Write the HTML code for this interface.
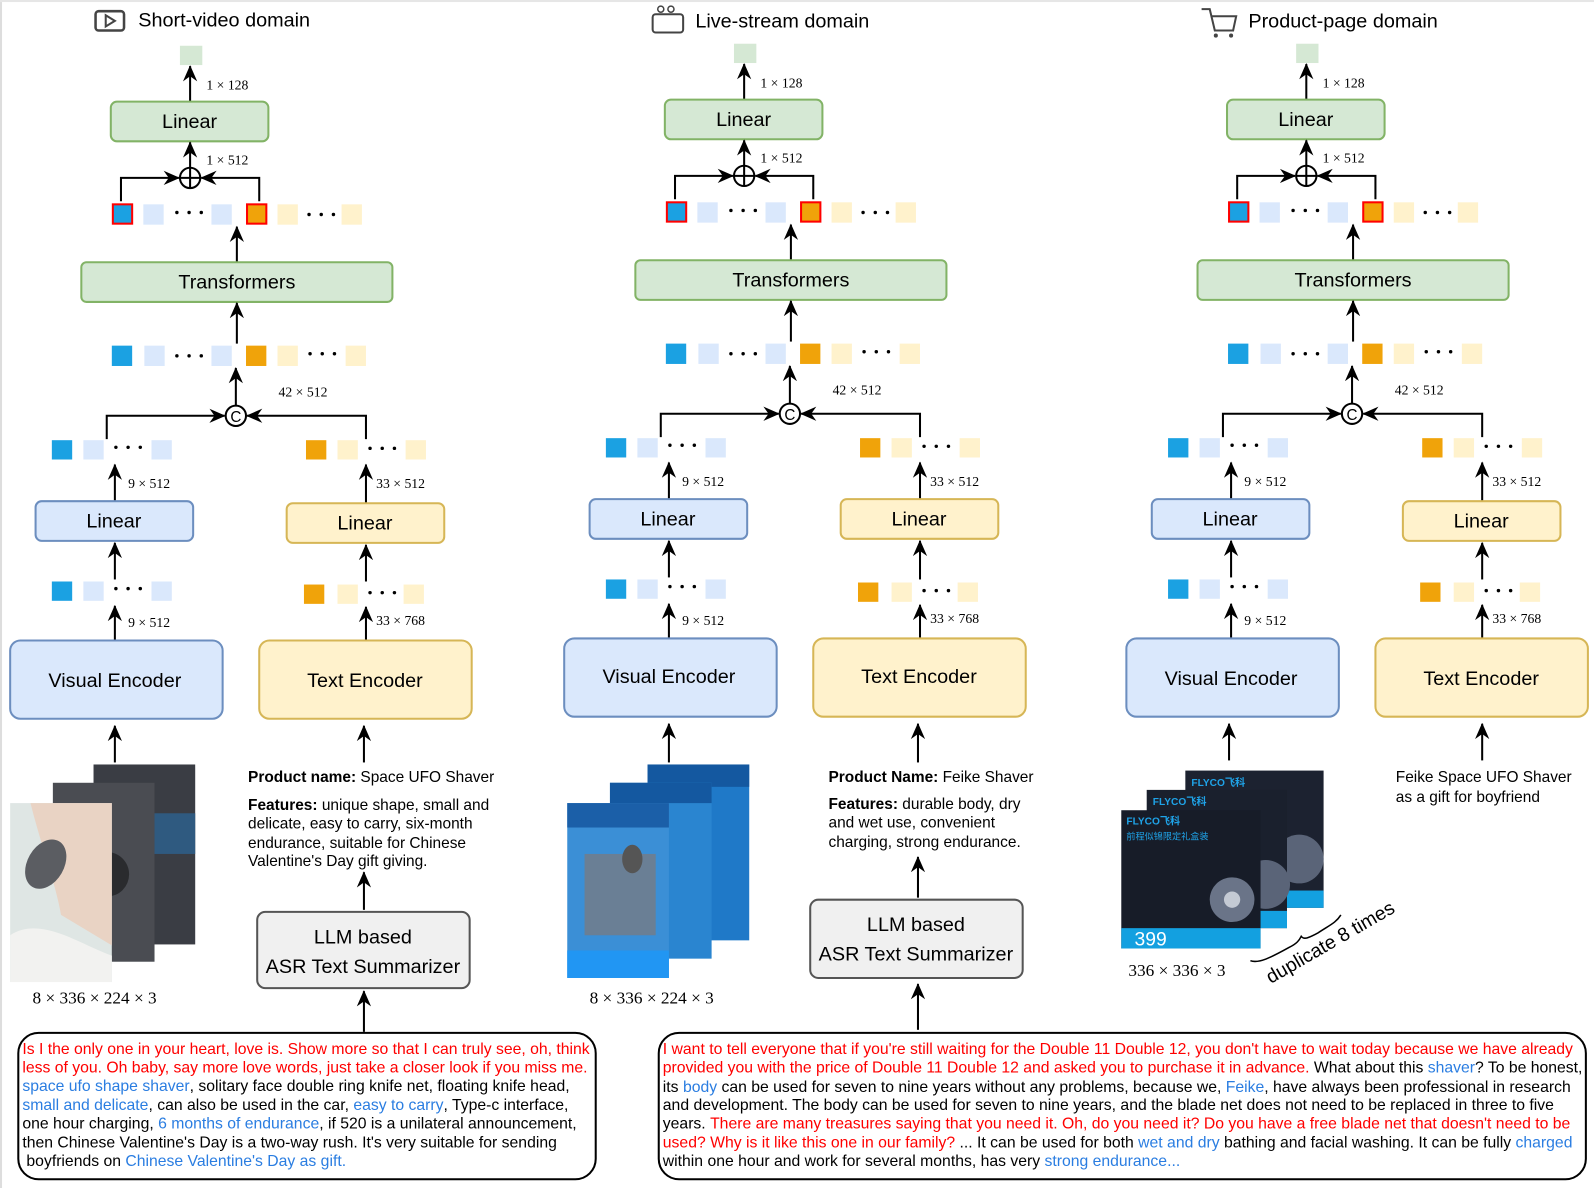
<!DOCTYPE html>
<html><head><meta charset="utf-8"><style>
html,body{margin:0;padding:0;background:#fff}
svg{display:block}
text{font-family:"Liberation Sans","Noto Sans CJK SC",sans-serif;fill:#000}
.s{font-family:"Liberation Serif",serif;font-size:13.5px}
.b{font-size:19.5px;text-anchor:middle}
.p{font-size:15.2px}
.t{font-size:15.5px}
.r{fill:#ff0000}.u{fill:#2a7de1}
</style></head><body>
<svg width="1594" height="1188" viewBox="0 0 1568 1168.6" xmlns="http://www.w3.org/2000/svg">
<defs>
<marker id="a" markerUnits="userSpaceOnUse" markerWidth="16" markerHeight="16" viewBox="0 0 16 16" refX="15" refY="8" orient="auto"><path d="M0,1 L16,8 L0,15 L5,8 z" fill="#000"/></marker>
</defs>
<rect x="0" y="0" width="1568" height="1168.6" fill="#fff"/>
<rect x="0" y="0" width="2" height="1168.6" fill="#ddd"/>
<rect x="0" y="0" width="1568" height="2" fill="#e6e6e6"/>

<!-- titles -->
<rect x="94" y="11" width="28" height="19" rx="3" fill="none" stroke="#444" stroke-width="2.5"/>
<path d="M104,15 L113,20.5 L104,26 z" fill="none" stroke="#444" stroke-width="2"/>
<text x="136" y="26" style="font-size:19.5px">Short-video domain</text>
<rect x="642" y="14" width="30" height="18" rx="3" fill="none" stroke="#444" stroke-width="2"/>
<circle cx="650" cy="9" r="3" fill="none" stroke="#444" stroke-width="1.5"/><circle cx="660" cy="9" r="3" fill="none" stroke="#444" stroke-width="1.5"/>
<text x="684" y="27" style="font-size:19.5px">Live-stream domain</text>
<path d="M1182,9 L1190,9 L1195,30 L1213,30 L1216,16 L1192,16" fill="none" stroke="#444" stroke-width="2"/>
<circle cx="1196" cy="35" r="2" fill="#444"/><circle cx="1211" cy="35" r="2" fill="#444"/>
<text x="1228" y="27" style="font-size:19.5px">Product-page domain</text>

<!-- CORE column 1 -->
<g stroke-width="2">
<rect x="177" y="45" width="22" height="19" fill="#d5e8d4"/>
<line x1="187" y1="100" x2="187" y2="65" stroke="#000" marker-end="url(#a)"/>
<text x="203" y="88" class="s">1 × 128</text>
<rect x="109" y="100" width="155" height="39" rx="6" fill="#d5e8d4" stroke="#82b366"/>
<text x="186.5" y="126" class="b">Linear</text>
<line x1="187" y1="165" x2="187" y2="140" stroke="#000" marker-end="url(#a)"/>
<text x="203" y="162" class="s">1 × 512</text>
<circle cx="187" cy="175" r="10" fill="none" stroke="#000"/>
<line x1="177" y1="175" x2="197" y2="175" stroke="#000"/><line x1="187" y1="165" x2="187" y2="185" stroke="#000"/>
<polyline points="119,198 119,175 176,175" fill="none" stroke="#000" marker-end="url(#a)"/>
<polyline points="255,198 255,175 198,175" fill="none" stroke="#000" marker-end="url(#a)"/>
<rect x="111" y="201" width="19" height="19" fill="#1ba1e2" stroke="#ff0000"/>
<rect x="141" y="201" width="20" height="20" fill="#dae8fc"/>
<circle cx="174" cy="209" r="1.7"/><circle cx="186" cy="209" r="1.7"/><circle cx="198" cy="209" r="1.7"/>
<rect x="208" y="201" width="20" height="20" fill="#dae8fc"/>
<rect x="243" y="201" width="19" height="19" fill="#f0a30a" stroke="#ff0000"/>
<rect x="273" y="201" width="20" height="20" fill="#fff2cc"/>
<circle cx="304" cy="211" r="1.7"/><circle cx="316" cy="211" r="1.7"/><circle cx="328" cy="211" r="1.7"/>
<rect x="336" y="201" width="20" height="20" fill="#fff2cc"/>
<line x1="233" y1="258" x2="233" y2="223" stroke="#000" marker-end="url(#a)"/>
<rect x="80" y="258" width="306" height="39" rx="5" fill="#d5e8d4" stroke="#82b366"/>
<text x="233" y="284" class="b">Transformers</text>
<line x1="233" y1="338" x2="233" y2="298" stroke="#000" marker-end="url(#a)"/>
<rect x="110" y="340" width="20" height="20" fill="#1ba1e2"/>
<rect x="142" y="340" width="20" height="20" fill="#dae8fc"/>
<circle cx="174" cy="350" r="1.7"/><circle cx="186" cy="350" r="1.7"/><circle cx="198" cy="350" r="1.7"/>
<rect x="208" y="340" width="20" height="20" fill="#dae8fc"/>
<rect x="242" y="340" width="20" height="20" fill="#f0a30a"/>
<rect x="273" y="340" width="20" height="20" fill="#fff2cc"/>
<circle cx="305" cy="348" r="1.7"/><circle cx="317" cy="348" r="1.7"/><circle cx="329" cy="348" r="1.7"/>
<rect x="340" y="340" width="20" height="20" fill="#fff2cc"/>
<line x1="232" y1="399" x2="232" y2="362" stroke="#000" marker-end="url(#a)"/>
<text x="274" y="390" class="s">42 × 512</text>
<circle cx="232" cy="409" r="10" fill="none" stroke="#000"/>
<text x="232" y="415" style="font-size:15px;text-anchor:middle">C</text>
<polyline points="105,432 105,409 221,409" fill="none" stroke="#000" marker-end="url(#a)"/>
<polyline points="360,432 360,409 243,409" fill="none" stroke="#000" marker-end="url(#a)"/>
<rect x="51" y="433" width="20" height="19" fill="#1ba1e2"/>
<rect x="82" y="433" width="20" height="19" fill="#dae8fc"/>
<circle cx="114" cy="440" r="1.7"/><circle cx="126" cy="440" r="1.7"/><circle cx="138" cy="440" r="1.7"/>
<rect x="149" y="433" width="20" height="19" fill="#dae8fc"/>
<rect x="301" y="433" width="20" height="19" fill="#f0a30a"/>
<rect x="332" y="433" width="20" height="19" fill="#fff2cc"/>
<circle cx="364" cy="441" r="1.7"/><circle cx="376" cy="441" r="1.7"/><circle cx="388" cy="441" r="1.7"/>
<rect x="399" y="433" width="20" height="19" fill="#fff2cc"/>
<line x1="113" y1="493" x2="113" y2="457" stroke="#000" marker-end="url(#a)"/>
<text x="126" y="480" class="s">9 × 512</text>
<line x1="360" y1="495" x2="360" y2="457" stroke="#000" marker-end="url(#a)"/>
<text x="370" y="480" class="s">33 × 512</text>
<rect x="35" y="493" width="155" height="39" rx="6" fill="#dae8fc" stroke="#6c8ebf"/>
<text x="112" y="519" class="b">Linear</text>
<rect x="282" y="495" width="155" height="39" rx="6" fill="#fff2cc" stroke="#d6b656"/>
<text x="359" y="521" class="b">Linear</text>
<line x1="113" y1="570" x2="113" y2="534" stroke="#000" marker-end="url(#a)"/>
<line x1="360" y1="572" x2="360" y2="536" stroke="#000" marker-end="url(#a)"/>
<rect x="51" y="572" width="20" height="19" fill="#1ba1e2"/>
<rect x="82" y="572" width="20" height="19" fill="#dae8fc"/>
<circle cx="114" cy="579" r="1.7"/><circle cx="126" cy="579" r="1.7"/><circle cx="138" cy="579" r="1.7"/>
<rect x="149" y="572" width="20" height="19" fill="#dae8fc"/>
<rect x="299" y="575" width="20" height="19" fill="#f0a30a"/>
<rect x="332" y="575" width="20" height="19" fill="#fff2cc"/>
<circle cx="364" cy="583" r="1.7"/><circle cx="376" cy="583" r="1.7"/><circle cx="388" cy="583" r="1.7"/>
<rect x="397" y="575" width="20" height="19" fill="#fff2cc"/>
<line x1="113" y1="630" x2="113" y2="596" stroke="#000" marker-end="url(#a)"/>
<text x="126" y="617" class="s">9 × 512</text>
<line x1="360" y1="630" x2="360" y2="597" stroke="#000" marker-end="url(#a)"/>
<text x="370" y="615" class="s">33 × 768</text>
<rect x="10" y="630" width="209" height="77" rx="10" fill="#dae8fc" stroke="#6c8ebf"/>
<text x="113" y="676" class="b">Visual Encoder</text>
<rect x="255" y="630" width="209" height="77" rx="10" fill="#fff2cc" stroke="#d6b656"/>
<text x="359" y="676" class="b">Text Encoder</text>
<line x1="113" y1="750" x2="113" y2="714" stroke="#000" marker-end="url(#a)"/>
<line x1="358" y1="750" x2="358" y2="714" stroke="#000" marker-end="url(#a)"/>
</g>

<!-- CORE column 2 -->
<g transform="translate(545,-2)" stroke-width="2">
<rect x="177" y="45" width="22" height="19" fill="#d5e8d4"/>
<line x1="187" y1="100" x2="187" y2="65" stroke="#000" marker-end="url(#a)"/>
<text x="203" y="88" class="s">1 × 128</text>
<rect x="109" y="100" width="155" height="39" rx="6" fill="#d5e8d4" stroke="#82b366"/>
<text x="186.5" y="126" class="b">Linear</text>
<line x1="187" y1="165" x2="187" y2="140" stroke="#000" marker-end="url(#a)"/>
<text x="203" y="162" class="s">1 × 512</text>
<circle cx="187" cy="175" r="10" fill="none" stroke="#000"/>
<line x1="177" y1="175" x2="197" y2="175" stroke="#000"/><line x1="187" y1="165" x2="187" y2="185" stroke="#000"/>
<polyline points="119,198 119,175 176,175" fill="none" stroke="#000" marker-end="url(#a)"/>
<polyline points="255,198 255,175 198,175" fill="none" stroke="#000" marker-end="url(#a)"/>
<rect x="111" y="201" width="19" height="19" fill="#1ba1e2" stroke="#ff0000"/>
<rect x="141" y="201" width="20" height="20" fill="#dae8fc"/>
<circle cx="174" cy="209" r="1.7"/><circle cx="186" cy="209" r="1.7"/><circle cx="198" cy="209" r="1.7"/>
<rect x="208" y="201" width="20" height="20" fill="#dae8fc"/>
<rect x="243" y="201" width="19" height="19" fill="#f0a30a" stroke="#ff0000"/>
<rect x="273" y="201" width="20" height="20" fill="#fff2cc"/>
<circle cx="304" cy="211" r="1.7"/><circle cx="316" cy="211" r="1.7"/><circle cx="328" cy="211" r="1.7"/>
<rect x="336" y="201" width="20" height="20" fill="#fff2cc"/>
<line x1="233" y1="258" x2="233" y2="223" stroke="#000" marker-end="url(#a)"/>
<rect x="80" y="258" width="306" height="39" rx="5" fill="#d5e8d4" stroke="#82b366"/>
<text x="233" y="284" class="b">Transformers</text>
<line x1="233" y1="338" x2="233" y2="298" stroke="#000" marker-end="url(#a)"/>
<rect x="110" y="340" width="20" height="20" fill="#1ba1e2"/>
<rect x="142" y="340" width="20" height="20" fill="#dae8fc"/>
<circle cx="174" cy="350" r="1.7"/><circle cx="186" cy="350" r="1.7"/><circle cx="198" cy="350" r="1.7"/>
<rect x="208" y="340" width="20" height="20" fill="#dae8fc"/>
<rect x="242" y="340" width="20" height="20" fill="#f0a30a"/>
<rect x="273" y="340" width="20" height="20" fill="#fff2cc"/>
<circle cx="305" cy="348" r="1.7"/><circle cx="317" cy="348" r="1.7"/><circle cx="329" cy="348" r="1.7"/>
<rect x="340" y="340" width="20" height="20" fill="#fff2cc"/>
<line x1="232" y1="399" x2="232" y2="362" stroke="#000" marker-end="url(#a)"/>
<text x="274" y="390" class="s">42 × 512</text>
<circle cx="232" cy="409" r="10" fill="none" stroke="#000"/>
<text x="232" y="415" style="font-size:15px;text-anchor:middle">C</text>
<polyline points="105,432 105,409 221,409" fill="none" stroke="#000" marker-end="url(#a)"/>
<polyline points="360,432 360,409 243,409" fill="none" stroke="#000" marker-end="url(#a)"/>
<rect x="51" y="433" width="20" height="19" fill="#1ba1e2"/>
<rect x="82" y="433" width="20" height="19" fill="#dae8fc"/>
<circle cx="114" cy="440" r="1.7"/><circle cx="126" cy="440" r="1.7"/><circle cx="138" cy="440" r="1.7"/>
<rect x="149" y="433" width="20" height="19" fill="#dae8fc"/>
<rect x="301" y="433" width="20" height="19" fill="#f0a30a"/>
<rect x="332" y="433" width="20" height="19" fill="#fff2cc"/>
<circle cx="364" cy="441" r="1.7"/><circle cx="376" cy="441" r="1.7"/><circle cx="388" cy="441" r="1.7"/>
<rect x="399" y="433" width="20" height="19" fill="#fff2cc"/>
<line x1="113" y1="493" x2="113" y2="457" stroke="#000" marker-end="url(#a)"/>
<text x="126" y="480" class="s">9 × 512</text>
<line x1="360" y1="495" x2="360" y2="457" stroke="#000" marker-end="url(#a)"/>
<text x="370" y="480" class="s">33 × 512</text>
<rect x="35" y="493" width="155" height="39" rx="6" fill="#dae8fc" stroke="#6c8ebf"/>
<text x="112" y="519" class="b">Linear</text>
<rect x="282" y="493" width="155" height="39" rx="6" fill="#fff2cc" stroke="#d6b656"/>
<text x="359" y="519" class="b">Linear</text>
<line x1="113" y1="570" x2="113" y2="534" stroke="#000" marker-end="url(#a)"/>
<line x1="360" y1="572" x2="360" y2="534" stroke="#000" marker-end="url(#a)"/>
<rect x="51" y="572" width="20" height="19" fill="#1ba1e2"/>
<rect x="82" y="572" width="20" height="19" fill="#dae8fc"/>
<circle cx="114" cy="579" r="1.7"/><circle cx="126" cy="579" r="1.7"/><circle cx="138" cy="579" r="1.7"/>
<rect x="149" y="572" width="20" height="19" fill="#dae8fc"/>
<rect x="299" y="575" width="20" height="19" fill="#f0a30a"/>
<rect x="332" y="575" width="20" height="19" fill="#fff2cc"/>
<circle cx="364" cy="583" r="1.7"/><circle cx="376" cy="583" r="1.7"/><circle cx="388" cy="583" r="1.7"/>
<rect x="397" y="575" width="20" height="19" fill="#fff2cc"/>
<line x1="113" y1="630" x2="113" y2="596" stroke="#000" marker-end="url(#a)"/>
<text x="126" y="617" class="s">9 × 512</text>
<line x1="360" y1="630" x2="360" y2="597" stroke="#000" marker-end="url(#a)"/>
<text x="370" y="615" class="s">33 × 768</text>
<rect x="10" y="630" width="209" height="77" rx="10" fill="#dae8fc" stroke="#6c8ebf"/>
<text x="113" y="674" class="b">Visual Encoder</text>
<rect x="255" y="630" width="209" height="77" rx="10" fill="#fff2cc" stroke="#d6b656"/>
<text x="359" y="674" class="b">Text Encoder</text>
<line x1="113" y1="752" x2="113" y2="714" stroke="#000" marker-end="url(#a)"/>
<line x1="358" y1="752" x2="358" y2="714" stroke="#000" marker-end="url(#a)"/>
</g>

<!-- CORE column 3 -->
<g transform="translate(1098,-2)" stroke-width="2">
<rect x="177" y="45" width="22" height="19" fill="#d5e8d4"/>
<line x1="187" y1="100" x2="187" y2="65" stroke="#000" marker-end="url(#a)"/>
<text x="203" y="88" class="s">1 × 128</text>
<rect x="109" y="100" width="155" height="39" rx="6" fill="#d5e8d4" stroke="#82b366"/>
<text x="186.5" y="126" class="b">Linear</text>
<line x1="187" y1="165" x2="187" y2="140" stroke="#000" marker-end="url(#a)"/>
<text x="203" y="162" class="s">1 × 512</text>
<circle cx="187" cy="175" r="10" fill="none" stroke="#000"/>
<line x1="177" y1="175" x2="197" y2="175" stroke="#000"/><line x1="187" y1="165" x2="187" y2="185" stroke="#000"/>
<polyline points="119,198 119,175 176,175" fill="none" stroke="#000" marker-end="url(#a)"/>
<polyline points="255,198 255,175 198,175" fill="none" stroke="#000" marker-end="url(#a)"/>
<rect x="111" y="201" width="19" height="19" fill="#1ba1e2" stroke="#ff0000"/>
<rect x="141" y="201" width="20" height="20" fill="#dae8fc"/>
<circle cx="174" cy="209" r="1.7"/><circle cx="186" cy="209" r="1.7"/><circle cx="198" cy="209" r="1.7"/>
<rect x="208" y="201" width="20" height="20" fill="#dae8fc"/>
<rect x="243" y="201" width="19" height="19" fill="#f0a30a" stroke="#ff0000"/>
<rect x="273" y="201" width="20" height="20" fill="#fff2cc"/>
<circle cx="304" cy="211" r="1.7"/><circle cx="316" cy="211" r="1.7"/><circle cx="328" cy="211" r="1.7"/>
<rect x="336" y="201" width="20" height="20" fill="#fff2cc"/>
<line x1="233" y1="258" x2="233" y2="223" stroke="#000" marker-end="url(#a)"/>
<rect x="80" y="258" width="306" height="39" rx="5" fill="#d5e8d4" stroke="#82b366"/>
<text x="233" y="284" class="b">Transformers</text>
<line x1="233" y1="338" x2="233" y2="298" stroke="#000" marker-end="url(#a)"/>
<rect x="110" y="340" width="20" height="20" fill="#1ba1e2"/>
<rect x="142" y="340" width="20" height="20" fill="#dae8fc"/>
<circle cx="174" cy="350" r="1.7"/><circle cx="186" cy="350" r="1.7"/><circle cx="198" cy="350" r="1.7"/>
<rect x="208" y="340" width="20" height="20" fill="#dae8fc"/>
<rect x="242" y="340" width="20" height="20" fill="#f0a30a"/>
<rect x="273" y="340" width="20" height="20" fill="#fff2cc"/>
<circle cx="305" cy="348" r="1.7"/><circle cx="317" cy="348" r="1.7"/><circle cx="329" cy="348" r="1.7"/>
<rect x="340" y="340" width="20" height="20" fill="#fff2cc"/>
<line x1="232" y1="399" x2="232" y2="362" stroke="#000" marker-end="url(#a)"/>
<text x="274" y="390" class="s">42 × 512</text>
<circle cx="232" cy="409" r="10" fill="none" stroke="#000"/>
<text x="232" y="415" style="font-size:15px;text-anchor:middle">C</text>
<polyline points="105,432 105,409 221,409" fill="none" stroke="#000" marker-end="url(#a)"/>
<polyline points="360,432 360,409 243,409" fill="none" stroke="#000" marker-end="url(#a)"/>
<rect x="51" y="433" width="20" height="19" fill="#1ba1e2"/>
<rect x="82" y="433" width="20" height="19" fill="#dae8fc"/>
<circle cx="114" cy="440" r="1.7"/><circle cx="126" cy="440" r="1.7"/><circle cx="138" cy="440" r="1.7"/>
<rect x="149" y="433" width="20" height="19" fill="#dae8fc"/>
<rect x="301" y="433" width="20" height="19" fill="#f0a30a"/>
<rect x="332" y="433" width="20" height="19" fill="#fff2cc"/>
<circle cx="364" cy="441" r="1.7"/><circle cx="376" cy="441" r="1.7"/><circle cx="388" cy="441" r="1.7"/>
<rect x="399" y="433" width="20" height="19" fill="#fff2cc"/>
<line x1="113" y1="493" x2="113" y2="457" stroke="#000" marker-end="url(#a)"/>
<text x="126" y="480" class="s">9 × 512</text>
<line x1="360" y1="495" x2="360" y2="457" stroke="#000" marker-end="url(#a)"/>
<text x="370" y="480" class="s">33 × 512</text>
<rect x="35" y="493" width="155" height="39" rx="6" fill="#dae8fc" stroke="#6c8ebf"/>
<text x="112" y="519" class="b">Linear</text>
<rect x="282" y="495" width="155" height="39" rx="6" fill="#fff2cc" stroke="#d6b656"/>
<text x="359" y="521" class="b">Linear</text>
<line x1="113" y1="570" x2="113" y2="534" stroke="#000" marker-end="url(#a)"/>
<line x1="360" y1="572" x2="360" y2="536" stroke="#000" marker-end="url(#a)"/>
<rect x="51" y="572" width="20" height="19" fill="#1ba1e2"/>
<rect x="82" y="572" width="20" height="19" fill="#dae8fc"/>
<circle cx="114" cy="579" r="1.7"/><circle cx="126" cy="579" r="1.7"/><circle cx="138" cy="579" r="1.7"/>
<rect x="149" y="572" width="20" height="19" fill="#dae8fc"/>
<rect x="299" y="575" width="20" height="19" fill="#f0a30a"/>
<rect x="332" y="575" width="20" height="19" fill="#fff2cc"/>
<circle cx="364" cy="583" r="1.7"/><circle cx="376" cy="583" r="1.7"/><circle cx="388" cy="583" r="1.7"/>
<rect x="397" y="575" width="20" height="19" fill="#fff2cc"/>
<line x1="113" y1="630" x2="113" y2="596" stroke="#000" marker-end="url(#a)"/>
<text x="126" y="617" class="s">9 × 512</text>
<line x1="360" y1="630" x2="360" y2="597" stroke="#000" marker-end="url(#a)"/>
<text x="370" y="615" class="s">33 × 768</text>
<rect x="10" y="630" width="209" height="77" rx="10" fill="#dae8fc" stroke="#6c8ebf"/>
<text x="113" y="676" class="b">Visual Encoder</text>
<rect x="255" y="630" width="209" height="77" rx="10" fill="#fff2cc" stroke="#d6b656"/>
<text x="359" y="676" class="b">Text Encoder</text>
<line x1="111" y1="750" x2="111" y2="714" stroke="#000" marker-end="url(#a)"/>
<line x1="360" y1="750" x2="360" y2="714" stroke="#000" marker-end="url(#a)"/>
</g>

<!-- Column 1 bottom -->
<rect x="96" y="755" width="96" height="174" fill="#000" opacity="0.15"/>
<rect x="92" y="752" width="100" height="177" fill="#3a3d44"/>
<rect x="92" y="800" width="100" height="40" fill="#2f5a80"/>
<rect x="56" y="773" width="96" height="173" fill="#000" opacity="0.15"/>
<rect x="52" y="770" width="100" height="176" fill="#4a4c52"/>
<circle cx="105" cy="860" r="22" fill="#2a2b2e"/>
<rect x="10" y="790" width="100" height="176" fill="#dfe6e4"/>
<path d="M30,790 C40,830 55,870 60,900 L110,930 L110,790 z" fill="#e9d3c4"/>
<path d="M10,920 C40,900 80,930 110,940 L110,966 L10,966 z" fill="#f2f2f0"/>
<ellipse cx="45" cy="850" rx="18" ry="26" fill="#5b5d62" transform="rotate(30 45 850)"/>
<text x="32" y="987" style="font-family:'Liberation Serif',serif;font-size:17px">8 × 336 × 224 × 3</text>
<text x="244" y="769" class="p"><tspan style="font-weight:bold">Product name:</tspan> Space UFO Shaver</text>
<text x="244" y="797" class="p"><tspan style="font-weight:bold">Features:</tspan> unique shape, small and</text>
<text x="244" y="815" class="p">delicate, easy to carry, six-month</text>
<text x="244" y="834" class="p">endurance, suitable for Chinese</text>
<text x="244" y="852" class="p">Valentine's Day gift giving.</text>
<line x1="358" y1="895" x2="358" y2="858" stroke="#000" stroke-width="2" marker-end="url(#a)"/>
<rect x="253" y="897" width="209" height="75" rx="8" fill="#f0f0f0" stroke="#555" stroke-width="2"/>
<text x="357" y="928" class="b">LLM based</text>
<text x="357" y="957" class="b">ASR Text Summarizer</text>
<line x1="358" y1="1015" x2="358" y2="975" stroke="#000" stroke-width="2" marker-end="url(#a)"/>

<!-- Column 2 bottom -->
<rect x="637" y="752" width="100" height="173" fill="#1f79c8"/>
<rect x="637" y="752" width="100" height="22" fill="#1458a0"/>
<rect x="600" y="770" width="100" height="173" fill="#2a85d0"/>
<rect x="600" y="770" width="100" height="20" fill="#1458a0"/>
<rect x="558" y="790" width="100" height="172" fill="#3b8fd6"/>
<rect x="558" y="790" width="100" height="24" fill="#1b5fa8"/>
<rect x="575" y="840" width="70" height="80" fill="#6a7f95"/>
<ellipse cx="622" cy="845" rx="10" ry="14" fill="#555"/>
<rect x="558" y="935" width="100" height="27" fill="#2196f3"/>
<text x="580" y="987" style="font-family:'Liberation Serif',serif;font-size:17px">8 × 336 × 224 × 3</text>
<text x="815" y="769" class="p"><tspan style="font-weight:bold">Product Name:</tspan> Feike Shaver</text>
<text x="815" y="796" class="p"><tspan style="font-weight:bold">Features:</tspan> durable body, dry</text>
<text x="815" y="814" class="p">and wet use, convenient</text>
<text x="815" y="833" class="p">charging, strong endurance.</text>
<line x1="903" y1="883" x2="903" y2="843" stroke="#000" stroke-width="2" marker-end="url(#a)"/>
<rect x="797" y="885" width="209" height="77" rx="8" fill="#f0f0f0" stroke="#555" stroke-width="2"/>
<text x="901" y="916" class="b">LLM based</text>
<text x="901" y="945" class="b">ASR Text Summarizer</text>
<line x1="903" y1="1013" x2="903" y2="968" stroke="#000" stroke-width="2" marker-end="url(#a)"/>

<!-- Column 3 bottom -->
<rect x="1166" y="758" width="136" height="135" fill="#1c2230"/>
<text x="1172" y="773" style="font-size:10px;font-weight:bold;fill:#1fa3e8">FLYCO飞科</text>
<circle cx="1278" cy="845" r="24" fill="#5a6478"/>
<rect x="1262" y="876" width="40" height="17" fill="#13a0e0"/>
<rect x="1128" y="777" width="138" height="136" fill="#1a202d"/>
<text x="1134" y="792" style="font-size:10px;font-weight:bold;fill:#1fa3e8">FLYCO飞科</text>
<circle cx="1245" cy="870" r="24" fill="#5a6478"/>
<rect x="1226" y="896" width="40" height="17" fill="#13a0e0"/>
<rect x="1103" y="797" width="137" height="136" fill="#171c28"/>
<text x="1108" y="811" style="font-size:10px;font-weight:bold;fill:#1fa3e8">FLYCO飞科</text>
<text x="1108" y="826" style="font-size:9px;fill:#1fa3e8">前程似锦限定礼盒装</text>
<circle cx="1212" cy="885" r="22" fill="#6a7488"/>
<circle cx="1212" cy="885" r="8" fill="#c4cad4"/>
<rect x="1103" y="913" width="137" height="20" fill="#13a0e0"/>
<text x="1116" y="930" style="font-size:19px;fill:#fff">399</text>
<text x="1110" y="960" style="font-family:'Liberation Serif',serif;font-size:17px">336 × 336 × 3</text>
<path d="M1230,945 C1238,948 1250,942 1268,932 C1276,928 1278,925 1280,921 C1283,925 1288,922 1296,918 C1308,910 1314,908 1319,900" fill="none" stroke="#000" stroke-width="1.5"/>
<text x="0" y="0" transform="translate(1250,968) rotate(-30)" style="font-size:19px">duplicate 8 times</text>
<text x="1373" y="769" class="p">Feike Space UFO Shaver</text>
<text x="1373" y="789" class="p">as a gift for boyfriend</text>

<!-- Bottom boxes -->
<rect x="18" y="1016" width="568" height="144" rx="20" fill="#fff" stroke="#000" stroke-width="2"/>
<text x="22" y="1037" class="t r">Is I the only one in your heart, love is. Show more so that I can truly see, oh, think</text>
<text x="22" y="1055" class="t r">less of you. Oh baby, say more love words, just take a closer look if you miss me.</text>
<text x="22" y="1073" class="t"><tspan class="u">space ufo shape shaver</tspan>, solitary face double ring knife net, floating knife head,</text>
<text x="22" y="1092" class="t"><tspan class="u">small and delicate</tspan>, can also be used in the car, <tspan class="u">easy to carry</tspan>, Type-c interface,</text>
<text x="22" y="1110" class="t">one hour charging, <tspan class="u">6 months of endurance</tspan>, if 520 is a unilateral announcement,</text>
<text x="22" y="1129" class="t">then Chinese Valentine's Day is a two-way rush. It's very suitable for sending</text>
<text x="26" y="1147" class="t">boyfriends on <tspan class="u">Chinese Valentine's Day as gift.</tspan></text>
<rect x="648" y="1016" width="912" height="144" rx="20" fill="#fff" stroke="#000" stroke-width="2"/>
<text x="652" y="1037" class="t r">I want to tell everyone that if you're still waiting for the Double 11 Double 12, you don't have to wait today because we have already</text>
<text x="652" y="1055" class="t"><tspan class="r">provided you with the price of Double 11 Double 12 and asked you to purchase it in advance.</tspan> What about this <tspan class="u">shaver</tspan>? To be honest,</text>
<text x="652" y="1074" class="t">its <tspan class="u">body</tspan> can be used for seven to nine years without any problems, because we, <tspan class="u">Feike</tspan>, have always been professional in research</text>
<text x="652" y="1092" class="t">and development.  The body can be used for seven to nine years, and the blade net does not need to be replaced in three to five</text>
<text x="652" y="1110" class="t">years. <tspan class="r">There are many treasures saying that you need it. Oh, do you need it? Do you have a free blade net that doesn't need to be</tspan></text>
<text x="652" y="1129" class="t"><tspan class="r">used? Why is it like this one in our family?</tspan> ... It can be used for both <tspan class="u">wet and dry</tspan> bathing and facial washing. It can be fully <tspan class="u">charged</tspan></text>
<text x="652" y="1147" class="t">within one hour and work for several months, has very <tspan class="u">strong endurance...</tspan></text>
</svg>
</body></html>
